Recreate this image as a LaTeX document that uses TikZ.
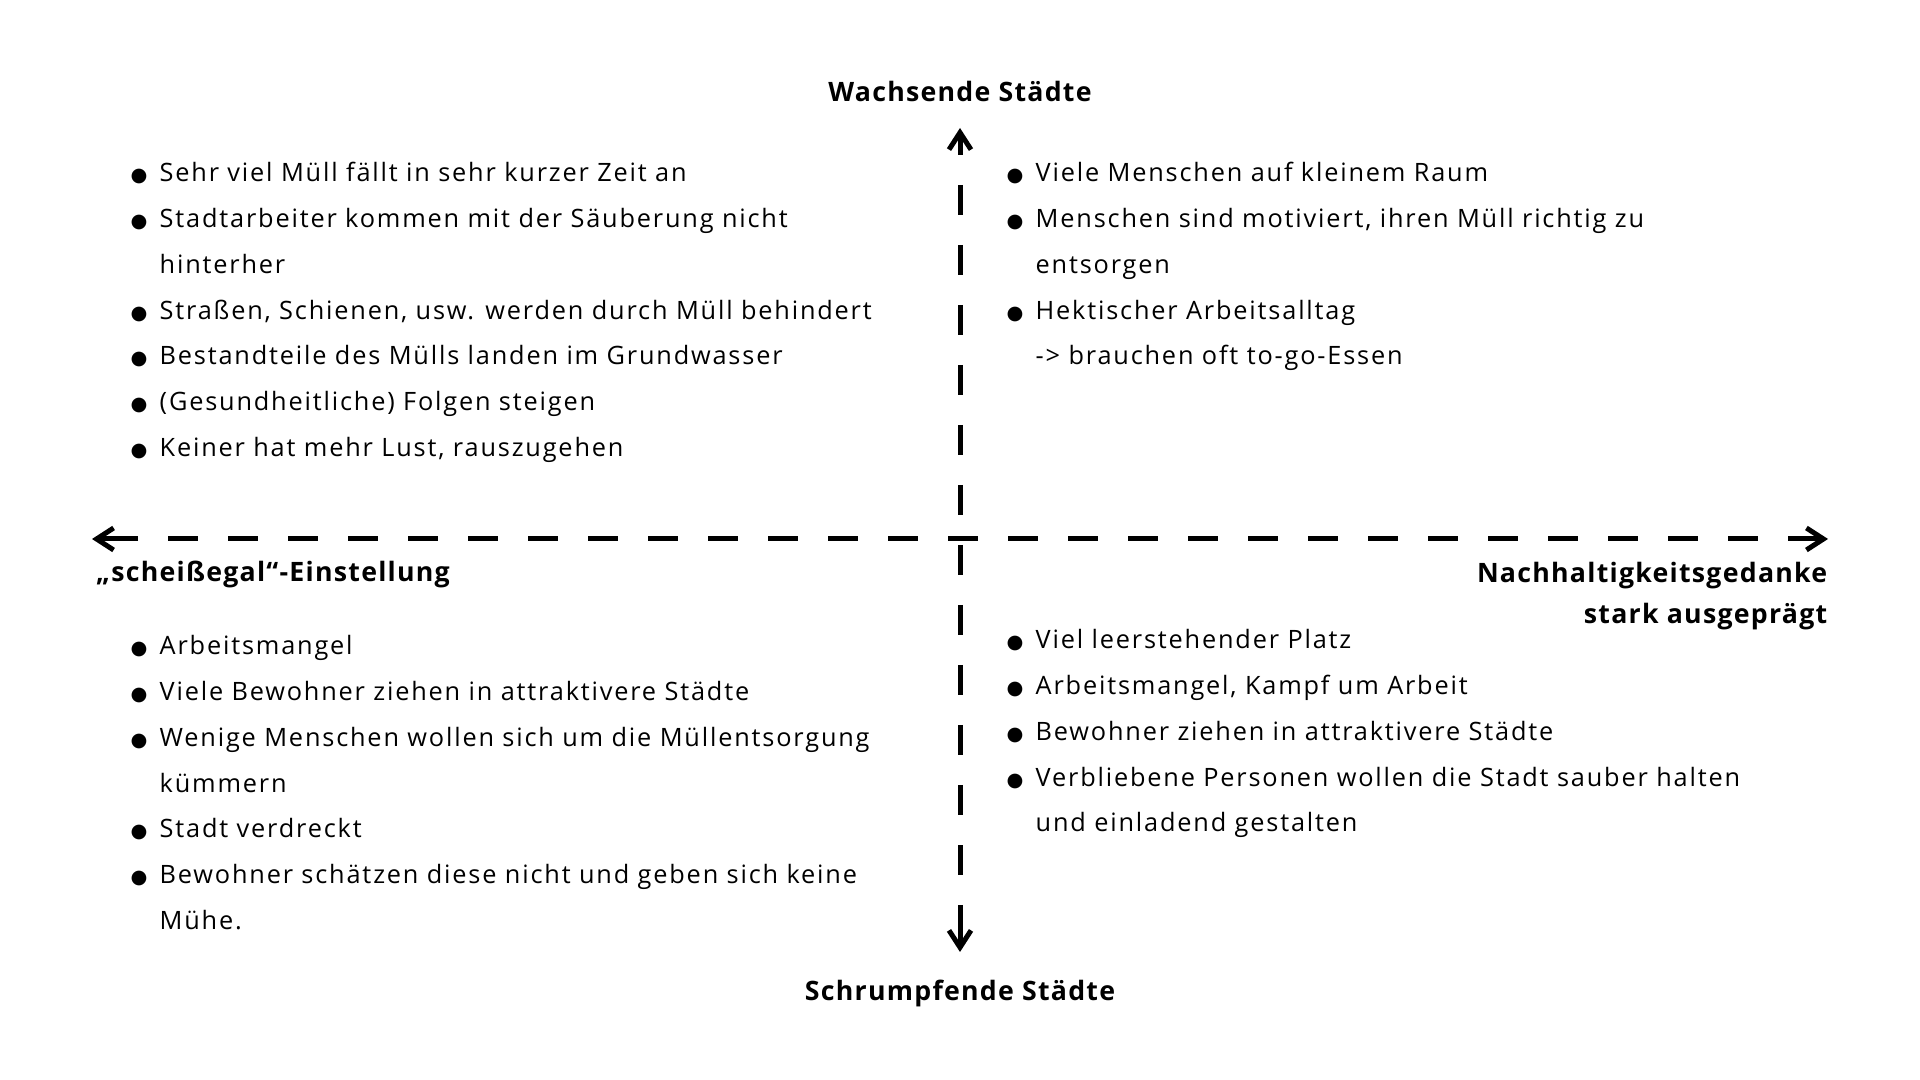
\documentclass[tikz,border=0pt]{standalone}
\usepackage{fontspec}
\setmainfont{Open Sans}[LetterSpace=7.2]
\newfontfamily\polefont{Open Sans}[LetterSpace=4.7]
\newfontfamily\dotfont{DejaVu Sans}
\usetikzlibrary{arrows.meta}

\newcommand{\bul}{{\dotfont\fontsize{5.5}{5.5}\selectfont ●}}
\newcommand{\liste}[1]{\begin{tabular}[t]{@{}p{0.29cm}@{}l@{}}#1\end{tabular}}

\tikzset{
  axline/.style={line width=0.05cm, dash pattern=on 0.3cm off 0.3cm, dash phase=0.3cm},
  axtip/.style={line width=0.05cm, -{Straight Barb[length=0.17cm,width=0.22cm]}},
  pole/.style={font=\polefont\fontsize{7.6}{11.5}\selectfont\bfseries, inner sep=0},
  quad/.style={font=\fontsize{7.2}{13}\selectfont, inner sep=0, anchor=base west},
}

\begin{document}
\begin{tikzpicture}
    \useasboundingbox (0,0) rectangle (19.2,10.8);
    % Achsen
    \coordinate (W) at (0.92,5.41);
    \coordinate (Ws) at (1.38,5.41);
    \coordinate (E) at (18.28,5.41);
    \coordinate (Es) at (17.88,5.41);
    \coordinate (N) at (9.60,9.52);
    \coordinate (Ns) at (9.60,9.25);
    \coordinate (S) at (9.60,1.28);
    \coordinate (Ss) at (9.60,1.75);
    \draw[axline] (Ws) -- (Es);
    \draw[axline] (Ns) -- (Ss);
    \draw[axtip] (Ws) -- (W);
    \draw[axtip] (Es) -- (E);
    \draw[axtip] (Ns) -- (N);
    \draw[axtip] (Ss) -- (S);

    \node[pole, anchor=base] (grow) at (9.60,9.78) {Wachsende Städte};
    \node[pole, anchor=base] (shrink) at (9.60,0.79) {Schrumpfende Städte};
    \node[pole, anchor=base west] (egal) at (0.955,4.98) {„scheißegal“-Einstellung};
    \node[pole, anchor=north east, align=right] (nachh) at (18.28,5.18) {Nachhaltigkeitsgedanke\\stark ausgeprägt};

    % Quadranten
    \node[quad] (growegal) at (1.30,8.98) {\liste{
        \bul & Sehr viel Müll fällt in sehr kurzer Zeit an\\
        \bul & Stadtarbeiter kommen mit der Säuberung nicht\\
             & hinterher\\
        \bul & Straßen, Schienen, usw. werden durch Müll behindert\\
        \bul & Bestandteile des Mülls landen im Grundwasser\\
        \bul & (Gesundheitliche) Folgen steigen\\
        \bul & Keiner hat mehr Lust, rauszugehen}};
    \node[quad] (grownachh) at (10.06,8.98) {\liste{
        \bul & Viele Menschen auf kleinem Raum\\
        \bul & Menschen sind motiviert, ihren Müll richtig zu\\
             & entsorgen\\
        \bul & Hektischer Arbeitsalltag\\
             & -> brauchen oft to-go-Essen}};
    \node[quad] (shrinkegal) at (1.30,4.25) {\liste{
        \bul & Arbeitsmangel\\
        \bul & Viele Bewohner ziehen in attraktivere Städte\\
        \bul & Wenige Menschen wollen sich um die Müllentsorgung\\
             & kümmern\\
        \bul & Stadt verdreckt\\
        \bul & Bewohner schätzen diese nicht und geben sich keine\\
             & Mühe.}};
    \node[quad] (shrinknachh) at (10.06,4.31) {\liste{
        \bul & Viel leerstehender Platz\\
        \bul & Arbeitsmangel, Kampf um Arbeit\\
        \bul & Bewohner ziehen in attraktivere Städte\\
        \bul & Verbliebene Personen wollen die Stadt sauber halten\\
             & und einladend gestalten}};
\end{tikzpicture}
\end{document}
